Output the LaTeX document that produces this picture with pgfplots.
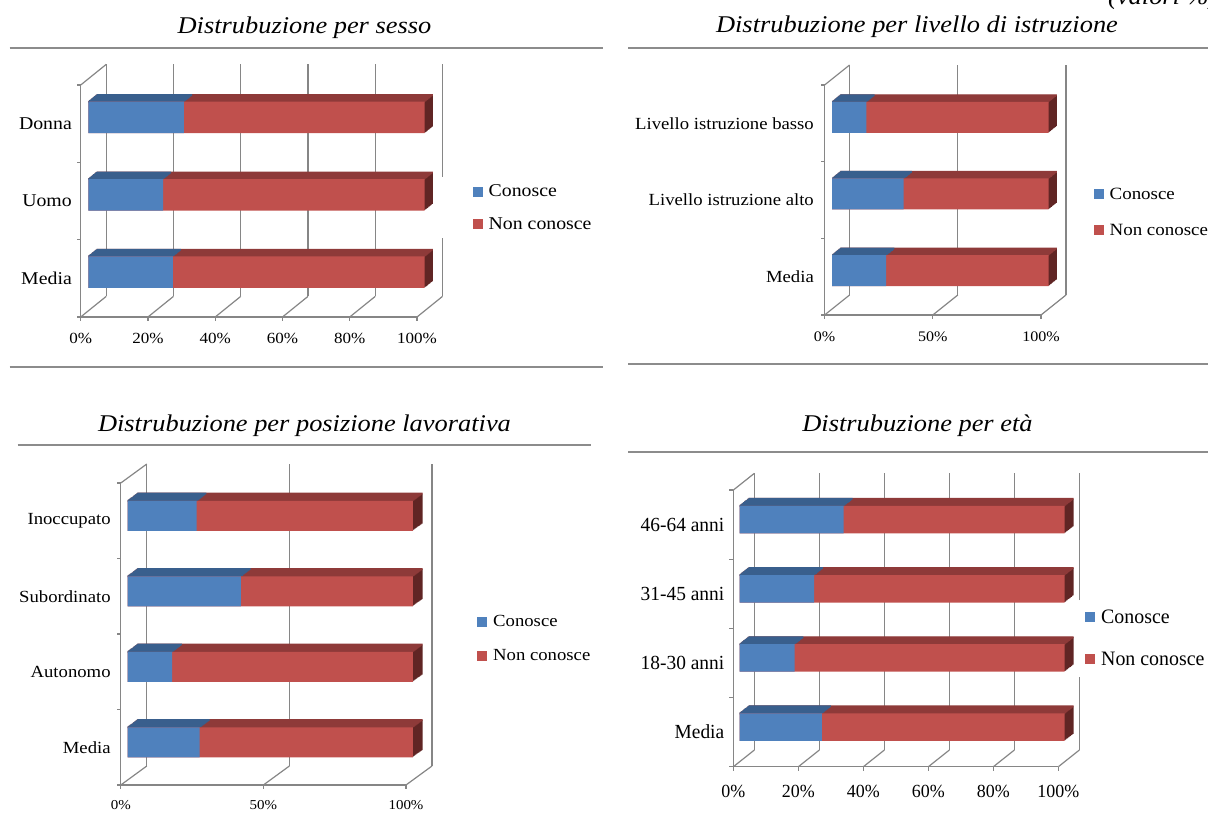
\documentclass[border=0pt]{standalone}
\usepackage{pgfplots}
\pgfplotsset{compat=1.18}
\usepackage{pgfplotstable}
\usepackage{fontspec}
\setmainfont{Liberation Serif}[FakeStretch=1.1]
\newfontfamily\agefont{Liberation Serif}[FakeStretch=0.97]

\definecolor{blueF}{RGB}{79,129,189}
\definecolor{blueT}{RGB}{57,95,141}
\definecolor{redF}{RGB}{192,80,77}
\definecolor{redT}{RGB}{142,58,57}
\definecolor{redE}{RGB}{96,37,36}
\definecolor{gridg}{RGB}{134,134,134}
\definecolor{sepg}{RGB}{140,140,140}

% shares (%) of people who know / do not know, by group
\pgfplotstableread{
pos conosce nonconosce
0.5 25.1 74.9
1.5 22.2 77.8
2.5 28.4 71.6
}\tabsesso
\pgfplotstableread{
pos conosce nonconosce
0.5 25.0 75.0
1.5 33.1 66.9
2.5 15.8 84.2
}\tabistr
\pgfplotstableread{
pos conosce nonconosce
0.5 25.3 74.7
1.5 15.6 84.4
2.5 39.7 60.3
3.5 24.2 75.8
}\tablav
\pgfplotstableread{
pos conosce nonconosce
0.5 25.3 74.7
1.5 16.9 83.1
2.5 22.9 77.1
3.5 32.0 68.0
}\tabeta

\tikzset{gridline/.style={draw=gridg, line width=1.2pt}}

\pgfplotsset{
  box3d/.style={
    scale only axis, clip=false, anchor=south west,
    xmin=0, xmax=100, ymin=0,
    axis lines=left, axis line style={-, gridg, line width=1.2pt},
    major tick length=0pt, minor tick length=0pt,
    xticklabel style={anchor=center, inner sep=0pt},
    yticklabel style={anchor=east, inner sep=0pt},
    legend cell align=left,
    legend image code/.code={\fill[##1] (0pt,-5pt) rectangle (10pt,5pt);},
    legend style={draw=none, fill=none, inner sep=0pt, column sep=4pt,
      nodes={inner sep=2pt}},
  },
}

% floor lines, ticks, left wall and back-wall grid of the box
% #1 depth x, #2 depth y, #3 number of categories,
% #4 values of the full back lines, #5 values on the floor
\newcommand{\wallgrid}[5]{%
  \pgfplotsinvokeforeach{#5}{%
    \draw[gridline] (axis cs:##1,0) -- ++(0pt,-4pt);
    \draw[gridline] (axis cs:##1,0) -- ([shift={(#1pt,#2pt)}]axis cs:##1,0);
  }
  \pgfplotsinvokeforeach{#4}{%
    \draw[gridline] ([shift={(#1pt,#2pt)}]axis cs:##1,0) -- ([shift={(#1pt,#2pt)}]axis cs:##1,#3);
  }
  \pgfplotsinvokeforeach{0,...,#3}{%
    \draw[gridline] (axis cs:0,##1) -- ++(-4pt,0pt);
  }
  \draw[gridline] (axis cs:0,#3) -- ([shift={(#1pt,#2pt)}]axis cs:0,#3);
}

% 3D stacked bars: #1 table, #2/#3 depth vector, #4 front depth, #5 back depth,
% #6 bar height, #7 number of sweep steps
\newcommand{\boxbars}[7]{%
  \pgfplotsinvokeforeach{1,...,#7}{%
    \addplot[forget plot, xbar, bar shift=0pt, bar width=#6pt, draw=none, fill=redE,
      xshift={(#4+(#5-#4)*##1/#7)*#2}, yshift={(#4+(#5-#4)*##1/#7)*#3}]
      table[x expr=\thisrow{conosce}+\thisrow{nonconosce}, y=pos]{#1};
  }
  \pgfplotsinvokeforeach{0,...,#7}{%
    \addplot[forget plot, xbar, bar shift=0pt, bar width=1.8pt, draw=none, fill=redT,
      xshift={(#4+(#5-#4)*##1/#7)*#2}, yshift={(#4+(#5-#4)*##1/#7)*#3+#6/2}]
      table[x expr=\thisrow{conosce}+\thisrow{nonconosce}, y=pos]{#1};
  }
  \pgfplotsinvokeforeach{0,...,#7}{%
    \addplot[forget plot, xbar, bar shift=0pt, bar width=1.8pt, draw=none, fill=blueT,
      xshift={(#4+(#5-#4)*##1/#7)*#2}, yshift={(#4+(#5-#4)*##1/#7)*#3+#6/2}]
      table[x=conosce, y=pos]{#1};
  }
  \addplot[forget plot, xbar, bar shift=0pt, bar width=#6pt, draw=none, fill=redF,
    xshift={#4*#2}, yshift={#4*#3}]
    table[x expr=\thisrow{conosce}+\thisrow{nonconosce}, y=pos]{#1};
  \addplot[forget plot, xbar, bar shift=0pt, bar width=#6pt, draw=none, fill=blueF,
    xshift={#4*#2}, yshift={#4*#3}]
    table[x=conosce, y=pos]{#1};
  \addlegendimage{fill=blueF, draw=none}\addlegendentry{Conosce}
  \addlegendimage{fill=redF, draw=none}\addlegendentry{Non conosce}
}

\begin{document}
\begin{tikzpicture}
\path[use as bounding box] (0pt,0pt) rectangle (1208pt,822pt);
\clip (0pt,0pt) rectangle (1208pt,822pt);

% headings and separators
\begin{scope}[font=\fontsize{24}{28}\selectfont\itshape]
\node[anchor=base] at (304.5pt,788.5pt) {Distrubuzione per sesso};
\node[anchor=base] at (917pt,789pt) {Distrubuzione per livello di istruzione};
\node[anchor=base] at (304.5pt,390.3pt) {Distrubuzione per posizione lavorativa};
\node[anchor=base] at (917.5pt,390.3pt) {Distrubuzione per età};
\node[anchor=base west, inner sep=0pt] at (1108pt,817pt) {(valori \%)};
\end{scope}
\begin{scope}[draw=sepg, line width=1.8pt]
\draw (9.7pt,774.3pt) -- (603pt,774.3pt);
\draw (9.7pt,455.3pt) -- (603pt,455.3pt);
\draw (628.4pt,774.3pt) -- (1208pt,774.3pt);
\draw (628.4pt,457.7pt) -- (1208pt,457.7pt);
\draw (17.5pt,377pt) -- (591pt,377pt);
\draw (628.4pt,370.3pt) -- (1208pt,370.3pt);
\end{scope}

% by sex
\begin{axis}[box3d, at={(80.7pt,505pt)}, width=336.3pt, height=232pt, ymax=3,
  xtick={0,20,...,100}, xticklabels={0\%,20\%,40\%,60\%,80\%,100\%},
  ytick={0.5,1.5,2.5}, yticklabels={Media,Uomo,Donna},
  xticklabel style={font=\fontsize{15.5}{17}\selectfont, yshift=-21pt},
  yticklabel style={font=\fontsize{18}{20}\selectfont, xshift=-8.7pt},
  legend style={at={(1.165,0.471)}, anchor=west, row sep=15pt,
    font=\fontsize{18}{20}\selectfont}]
\wallgrid{25.5}{20.6}{3}{0,20,40,60,80}{0,20,...,100}
\draw[gridline] ([shift={(25.5pt,20.6pt)}]axis cs:100,0) -- ([shift={(25.5pt,20.6pt)}]axis cs:100,0.755);
\draw[gridline] ([shift={(25.5pt,20.6pt)}]axis cs:100,1.548) -- ([shift={(25.5pt,20.6pt)}]axis cs:100,3);
\boxbars{\tabsesso}{25.5}{20.6}{0.3}{0.62}{31.5}{10}
\end{axis}

% by education level
\begin{axis}[box3d, at={(824.6pt,507pt)}, width=216.4pt, height=230pt, ymax=3,
  xtick={0,50,100}, xticklabels={0\%,50\%,100\%},
  ytick={0.5,1.5,2.5}, yticklabels={Media,Livello istruzione alto,Livello istruzione basso},
  xticklabel style={font=\fontsize{14.6}{16}\selectfont, yshift=-21.7pt},
  yticklabel style={font=\fontsize{17}{19}\selectfont, xshift=-10.6pt},
  legend style={at={(1.2426,0.4467)}, anchor=west, row sep=19.5pt,
    font=\fontsize{17.2}{19}\selectfont}]
\wallgrid{25}{20}{3}{0,50,100}{0,50,100}
\boxbars{\tabistr}{25}{20}{0.3}{0.63}{31}{10}
\end{axis}

% by job position
\begin{axis}[box3d, at={(120.8pt,37pt)}, width=285.2pt, height=302pt, ymax=4,
  xtick={0,50,100}, xticklabels={0\%,50\%,100\%},
  ytick={0.5,1.5,2.5,3.5}, yticklabels={Media,Autonomo,Subordinato,Inoccupato},
  xticklabel style={font=\fontsize{13.6}{15}\selectfont, yshift=-20pt},
  yticklabel style={font=\fontsize{17}{19}\selectfont, xshift=-10pt},
  legend style={at={(1.249,0.4843)}, anchor=west, row sep=17.5pt,
    font=\fontsize{17}{19}\selectfont}]
\wallgrid{26}{19}{4}{0,50,100}{0,50,100}
\boxbars{\tablav}{26}{19}{0.26}{0.64}{30}{10}
\end{axis}

% by age
\begin{axis}[box3d, at={(733.4pt,55.3pt)}, width=325pt, height=276.7pt, ymax=4,
  xtick={0,20,...,100}, xticklabels={0\%,20\%,40\%,60\%,80\%,100\%},
  ytick={0.5,1.5,2.5,3.5}, yticklabels={Media,18-30 anni,31-45 anni,46-64 anni},
  xticklabel style={font=\agefont\fontsize{18.5}{20}\selectfont, yshift=-25pt},
  yticklabel style={font=\agefont\fontsize{20}{22}\selectfont, xshift=-9pt},
  legend style={at={(1.0818,0.4651)}, anchor=west, row sep=23pt,
    font=\agefont\fontsize{20.5}{22}\selectfont}]
\wallgrid{21}{16.7}{4}{0,20,40,60,80}{0,20,...,100}
\draw[gridline] ([shift={(21pt,16.7pt)}]axis cs:100,0) -- ([shift={(21pt,16.7pt)}]axis cs:100,1.059);
\draw[gridline] ([shift={(21pt,16.7pt)}]axis cs:100,2.168) -- ([shift={(21pt,16.7pt)}]axis cs:100,4);
\boxbars{\tabeta}{21}{16.7}{0.3}{0.72}{27.5}{10}
\end{axis}
\end{tikzpicture}
\end{document}
